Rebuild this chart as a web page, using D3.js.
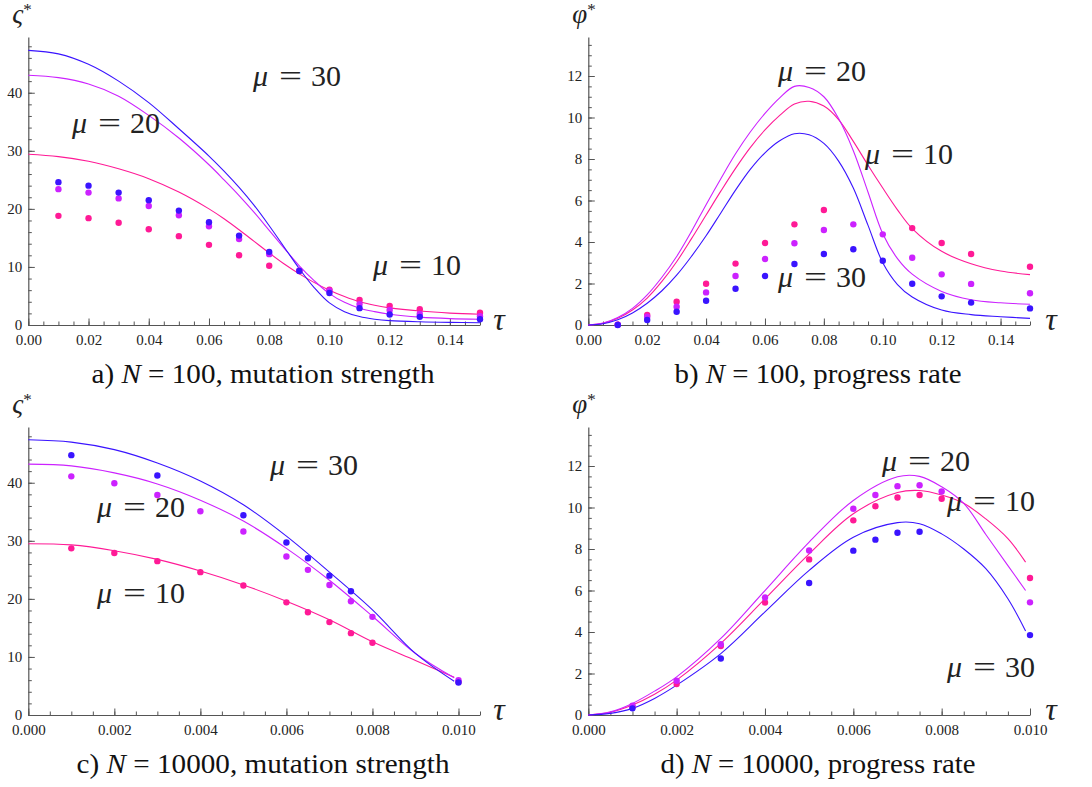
<!DOCTYPE html>
<html>
<head>
<meta charset="utf-8">
<script src="https://cdn.jsdelivr.net/npm/d3@7"></script>
<style>
  body { margin: 0; background: #fff; }
  svg { display: block; }
  text { font-family: "Liberation Serif", "Times New Roman", serif; }
</style>
</head>
<body>
<svg id="chart" width="1092" height="787"></svg>
<script>
// ---- Simulation points (dots), N = 100 ----
const tauN100 = [0.01, 0.02, 0.03, 0.04, 0.05, 0.06, 0.07, 0.08, 0.09, 0.10, 0.11, 0.12, 0.13, 0.15];
const sigmaN100Mu10 = [18.8, 18.4, 17.6, 16.5, 15.3, 13.8, 12.0, 10.2, 9.3, 6.1, 4.3, 3.3, 2.7, 2.1];
const sigmaN100Mu20 = [23.4, 22.8, 21.8, 20.5, 18.9, 17.0, 14.8, 12.2, 9.4, 5.9, 3.6, 2.6, 1.9, 1.5];
const sigmaN100Mu30 = [24.6, 24.0, 22.8, 21.5, 19.7, 17.7, 15.4, 12.6, 9.3, 5.5, 2.9, 1.8, 1.4, 1.0];
const phiN100Mu10 = [0.02, 0.48, 1.12, 1.99, 2.96, 3.95, 4.85, 5.54, null, null, 4.67, 3.95, 3.42, 2.81];
const phiN100Mu20 = [0.01, 0.40, 0.88, 1.57, 2.36, 3.18, 3.94, 4.58, 4.85, 4.37, 3.24, 2.44, 1.98, 1.53];
const phiN100Mu30 = [0.00, 0.24, 0.64, 1.17, 1.75, 2.36, 2.94, 3.42, 3.65, 3.10, 1.99, 1.38, 1.08, 0.80];

// ---- Simulation points (dots), N = 10000 ----
const tauN10000 = [0.001, 0.002, 0.003, 0.004, 0.005, 0.006, 0.0065, 0.007, 0.0075, 0.008, 0.010];
const sigmaN10000Mu10 = [28.7, 27.9, 26.5, 24.6, 22.3, 19.4, 17.7, 16.0, 14.1, 12.45, 5.7];
const sigmaN10000Mu20 = [41.1, 39.9, 37.9, 35.1, 31.6, 27.3, 25.0, 22.4, 19.6, 16.9, 6.0];
const sigmaN10000Mu30 = [44.75, null, 41.25, null, 34.4, 29.7, 27.0, 24.0, 21.3, null, 5.6];
const phiN10000Mu10 = [0.40, 1.49, 3.32, 5.42, 7.50, 9.38, 10.06, 10.48, 10.60, 10.42, 6.60];
const phiN10000Mu20 = [0.45, 1.65, 3.41, 5.66, 7.93, 9.94, 10.60, 11.03, 11.07, 10.77, 5.43];
const phiN10000Mu30 = [0.32, null, 2.72, null, 6.36, 7.92, 8.45, 8.78, 8.83, null, 3.85];

// ---- Theory curves ----
const curveTauA = [0, 0.01, 0.02, 0.03, 0.04, 0.05, 0.06, 0.065, 0.07, 0.075, 0.08, 0.085, 0.09, 0.095, 0.10, 0.105, 0.11, 0.115, 0.12, 0.13, 0.14, 0.15];
const curveSigmaN100Mu30 = [47.3, 46.7, 44.9, 42.0, 38.3, 33.8, 29.1, 26.5, 23.7, 20.6, 17.1, 13.4, 9.7, 6.4, 3.8, 2.3, 1.45, 1.0, 0.75, 0.55, 0.45, 0.4];
const curveSigmaN100Mu20 = [43.0, 42.6, 41.5, 39.4, 36.1, 32.2, 27.6, 25.0, 22.3, 19.4, 16.3, 13.2, 10.2, 7.6, 5.4, 3.9, 2.9, 2.3, 1.85, 1.35, 1.1, 1.0];
const curveSigmaN100Mu10 = [29.4, 29.0, 28.2, 26.9, 25.2, 22.9, 20.0, 18.3, 16.4, 14.4, 12.4, 10.5, 8.8, 7.3, 6.0, 4.9, 4.0, 3.4, 2.95, 2.4, 2.05, 1.85];

const curveTauB = [0, 0.005, 0.01, 0.015, 0.02, 0.025, 0.03, 0.035, 0.04, 0.045, 0.05, 0.055, 0.06, 0.065, 0.07, 0.075, 0.08, 0.085, 0.09, 0.095, 0.10, 0.105, 0.11, 0.12, 0.13, 0.14, 0.15];
const curvePhiN100Mu30 = [0, 0.06, 0.25, 0.58, 1.05, 1.65, 2.4, 3.3, 4.3, 5.4, 6.5, 7.5, 8.3, 8.88, 9.22, 9.17, 8.75, 7.9, 6.6, 4.8, 3.0, 1.95, 1.35, 0.72, 0.5, 0.4, 0.32];
const curvePhiN100Mu20 = [0, 0.09, 0.36, 0.8, 1.45, 2.3, 3.3, 4.5, 5.8, 7.05, 8.25, 9.3, 10.2, 10.95, 11.5, 11.45, 11.0, 9.95, 8.4, 6.4, 4.4, 3.2, 2.45, 1.62, 1.22, 1.07, 1.0];
const curvePhiN100Mu10 = [0, 0.08, 0.32, 0.72, 1.3, 2.1, 3.05, 4.15, 5.3, 6.45, 7.55, 8.55, 9.4, 10.1, 10.65, 10.78, 10.55, 9.9, 8.85, 7.7, 6.6, 5.55, 4.65, 3.55, 2.95, 2.6, 2.43];

const curveTauC = [0, 0.001, 0.002, 0.003, 0.004, 0.005, 0.006, 0.007, 0.008, 0.009, 0.0099];
const curveSigmaN10000Mu30 = [47.4, 47.0, 45.7, 43.4, 40.3, 36.2, 30.8, 24.6, 18.1, 10.6, 5.8];
const curveSigmaN10000Mu20 = [43.2, 42.9, 41.7, 39.8, 37.0, 33.4, 28.7, 23.2, 17.0, 10.6, 6.4];
const curveSigmaN10000Mu10 = [29.5, 29.3, 28.3, 26.8, 24.8, 22.4, 19.6, 16.4, 12.6, 9.4, 6.5];

const curveTauD = [0, 0.0005, 0.001, 0.0015, 0.002, 0.003, 0.004, 0.005, 0.006, 0.007, 0.0075, 0.008, 0.0085, 0.009, 0.0095, 0.0099];
const curvePhiN10000Mu30 = [0, 0.08, 0.32, 0.8, 1.44, 2.96, 4.97, 6.97, 8.57, 9.27, 9.22, 8.73, 8.0, 7.05, 5.6, 4.05];
const curvePhiN10000Mu20 = [0, 0.15, 0.56, 1.15, 1.84, 3.69, 6.0, 8.33, 10.34, 11.48, 11.5, 11.0, 10.2, 8.7, 7.2, 6.0];
const curvePhiN10000Mu10 = [0, 0.13, 0.48, 1.0, 1.68, 3.45, 5.6, 7.77, 9.7, 10.72, 10.82, 10.6, 10.2, 9.45, 8.5, 7.37];

// ---- Axis ticks ----
const xTicksN100 = [0, 0.02, 0.04, 0.06, 0.08, 0.10, 0.12, 0.14];
const xTicksN10000 = [0, 0.002, 0.004, 0.006, 0.008, 0.010];
const yTicksSigma = [0, 10, 20, 30, 40];
const yTicksPhi = [0, 2, 4, 6, 8, 10, 12];

const muNames = ["10", "20", "30"];
const colors = { "10": "#ff1a96", "20": "#cc22ff", "30": "#3a14ff" };

const svg = d3.select("#chart");

const panels = [
  { key: "a", left: 28.3, bottom: 325, width: 451.7, xMax: 0.15, yMax: 49.6,
    xTicks: xTicksN100, xMinor: 0.005, xFmt: d3.format(".2f"),
    yTicks: yTicksSigma, yMinor: 2, yName: "ς",
    tau: tauN100, dots: { "10": sigmaN100Mu10, "20": sigmaN100Mu20, "30": sigmaN100Mu30 },
    cTau: curveTauA, curves: { "10": curveSigmaN100Mu10, "20": curveSigmaN100Mu20, "30": curveSigmaN100Mu30 },
    labels: { "30": [253, 86], "20": [72, 133], "10": [373, 275] },
    title: ["a) ", "N", " = 100, mutation strength"], titleX: 263, titleY: 383, titleW: 343 },
  { key: "b", left: 588.3, bottom: 325, width: 441.7, xMax: 0.15, yMax: 13.88,
    xTicks: xTicksN100, xMinor: 0.005, xFmt: d3.format(".2f"),
    yTicks: yTicksPhi, yMinor: 0.5, yName: "φ",
    tau: tauN100, dots: { "10": phiN100Mu10, "20": phiN100Mu20, "30": phiN100Mu30 },
    cTau: curveTauB, curves: { "10": curvePhiN100Mu10, "20": curvePhiN100Mu20, "30": curvePhiN100Mu30 },
    labels: { "20": [778, 81], "10": [865, 164], "30": [778, 287] },
    title: ["b) ", "N", " = 100, progress rate"], titleX: 818, titleY: 383, titleW: 287 },
  { key: "c", left: 28.3, bottom: 715, width: 451.7, xMax: 0.0105, yMax: 49.6,
    xTicks: xTicksN10000, xMinor: 0.0005, xFmt: d3.format(".3f"),
    yTicks: yTicksSigma, yMinor: 2, yName: "ς",
    tau: tauN10000, dots: { "10": sigmaN10000Mu10, "20": sigmaN10000Mu20, "30": sigmaN10000Mu30 },
    cTau: curveTauC, curves: { "10": curveSigmaN10000Mu10, "20": curveSigmaN10000Mu20, "30": curveSigmaN10000Mu30 },
    labels: { "30": [270, 475], "20": [97, 517], "10": [97, 603] },
    title: ["c) ", "N", " = 10000, mutation strength"], titleX: 263, titleY: 773, titleW: 373 },
  { key: "d", left: 588.3, bottom: 715, width: 441.7, xMax: 0.010, yMax: 13.88,
    xTicks: xTicksN10000, xMinor: 0.0005, xFmt: d3.format(".3f"),
    yTicks: yTicksPhi, yMinor: 0.5, yName: "φ",
    tau: tauN10000, dots: { "10": phiN10000Mu10, "20": phiN10000Mu20, "30": phiN10000Mu30 },
    cTau: curveTauD, curves: { "10": curvePhiN10000Mu10, "20": curvePhiN10000Mu20, "30": curvePhiN10000Mu30 },
    labels: { "20": [882, 471], "10": [947, 511], "30": [947, 677] },
    title: ["d) ", "N", " = 10000, progress rate"], titleX: 818, titleY: 773, titleW: 315 }
];

const axisColor = "#555";
const plotHeight = 288;

function styleAxis(g) {
  g.selectAll("path.domain").attr("stroke", axisColor).attr("stroke-width", 1.2);
  g.selectAll(".tick line").attr("stroke", axisColor).attr("stroke-width", 1);
  g.selectAll(".tick text")
    .attr("font-family", "'Liberation Serif', 'Times New Roman', serif")
    .attr("font-size", 15).attr("fill", "#222");
}

function drawPanel(p) {
  const g = svg.append("g").attr("class", "panel-" + p.key);
  const x = d3.scaleLinear().domain([0, p.xMax]).range([p.left, p.left + p.width]);
  const y = d3.scaleLinear().domain([0, p.yMax]).range([p.bottom, p.bottom - plotHeight]);

  // minor ticks
  const xMinorVals = d3.range(0, p.xMax + p.xMinor / 2, p.xMinor);
  const yMinorVals = d3.range(0, p.yMax, p.yMinor);
  g.append("g").attr("transform", `translate(0,${p.bottom})`)
    .call(d3.axisBottom(x).tickValues(xMinorVals).tickFormat("").tickSizeInner(-3.5).tickSizeOuter(0))
    .call(a => { a.select("path.domain").remove(); styleAxis(a); });
  g.append("g").attr("transform", `translate(${p.left},0)`)
    .call(d3.axisLeft(y).tickValues(yMinorVals).tickFormat("").tickSizeInner(-3.5).tickSizeOuter(0))
    .call(a => { a.select("path.domain").remove(); styleAxis(a); });

  // major ticks + axis lines
  g.append("g").attr("transform", `translate(0,${p.bottom})`)
    .call(d3.axisBottom(x).tickValues(p.xTicks).tickFormat(p.xFmt).tickSizeInner(-6.5).tickSizeOuter(0).tickPadding(9))
    .call(styleAxis);
  g.append("g").attr("transform", `translate(${p.left},0)`)
    .call(d3.axisLeft(y).tickValues(p.yTicks).tickSizeInner(-6.5).tickSizeOuter(0).tickPadding(6))
    .call(styleAxis);

  // theory curves
  const line = d3.line()
    .x(d => x(d[0])).y(d => y(d[1]))
    .curve(d3.curveCatmullRom.alpha(0.5));
  muNames.forEach(m => {
    g.append("path")
      .datum(d3.zip(p.cTau, p.curves[m]))
      .attr("d", line)
      .attr("fill", "none")
      .attr("stroke", colors[m])
      .attr("stroke-width", 1.1);
  });

  // simulation dots (mu = 30 on top)
  muNames.forEach(m => {
    const pts = d3.zip(p.tau, p.dots[m]).filter(d => d[1] !== null);
    g.append("g").selectAll("circle").data(pts).join("circle")
      .attr("cx", d => x(d[0])).attr("cy", d => y(d[1]))
      .attr("r", 3.2).attr("fill", colors[m]);
  });

  // curve labels  mu = ...
  muNames.forEach(m => {
    const [lx, ly] = p.labels[m];
    const t = g.append("text").attr("y", ly).attr("font-size", 30).attr("fill", "#222");
    t.append("tspan").attr("x", lx).attr("font-style", "italic").text("μ");
    t.append("tspan").attr("x", lx + 26).attr("textLength", 23).attr("lengthAdjust", "spacingAndGlyphs").text("=");
    t.append("tspan").attr("x", lx + 58).text(m);
  });

  // axis names
  const yl = g.append("text").attr("x", p.left - 16).attr("y", p.bottom - 302).attr("font-size", 27).attr("fill", "#222");
  yl.append("tspan").attr("font-style", "italic").text(p.yName);
  yl.append("tspan").attr("dy", -8).attr("font-size", 17).text("*");
  g.append("text").attr("x", p.left + (p.key === "a" || p.key === "c" ? 465 : 457)).attr("y", p.bottom + 5)
    .attr("font-size", 32).attr("font-style", "italic").attr("fill", "#222").text("τ");

  // panel caption
  const tt = g.append("text").attr("x", p.titleX).attr("y", p.titleY).attr("text-anchor", "middle")
    .attr("font-size", 27).attr("fill", "#111")
    .attr("textLength", p.titleW).attr("lengthAdjust", "spacingAndGlyphs");
  tt.append("tspan").text(p.title[0]);
  tt.append("tspan").attr("font-style", "italic").text(p.title[1]);
  tt.append("tspan").text(p.title[2]);
}

panels.forEach(drawPanel);
</script>
</body>
</html>
